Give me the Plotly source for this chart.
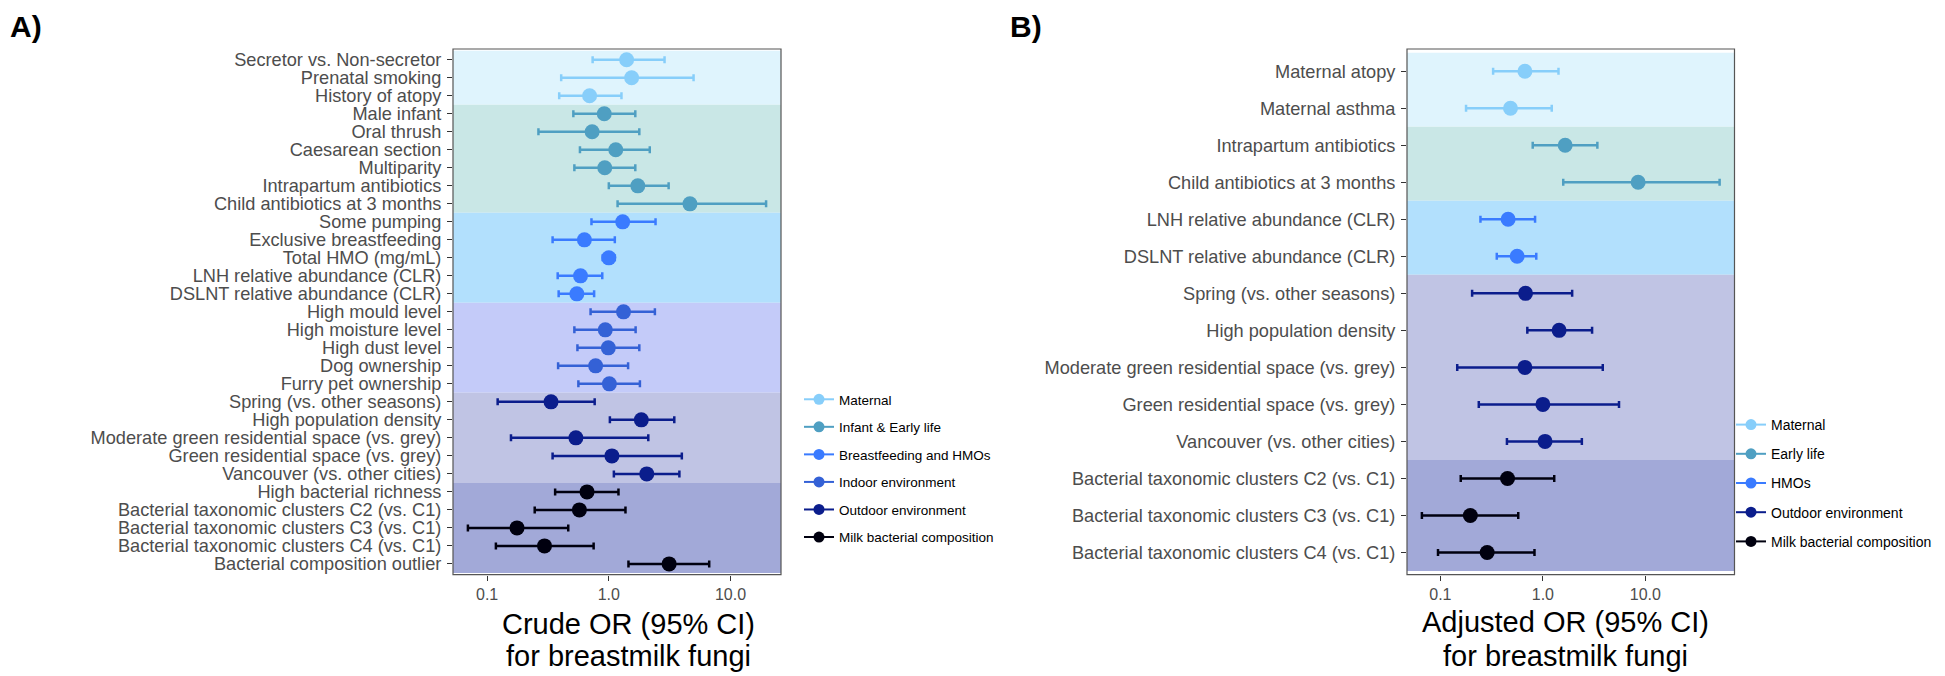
import math
import plotly.graph_objects as go

# ---------------- Data: panel A (crude OR) ----------------
A_labels = [
    "Secretor vs. Non-secretor", "Prenatal smoking", "History of atopy",
    "Male infant", "Oral thrush", "Caesarean section", "Multiparity",
    "Intrapartum antibiotics", "Child antibiotics at 3 months",
    "Some pumping", "Exclusive breastfeeding", "Total HMO (mg/mL)",
    "LNH relative abundance (CLR)", "DSLNT relative abundance (CLR)",
    "High mould level", "High moisture level", "High dust level",
    "Dog ownership", "Furry pet ownership",
    "Spring (vs. other seasons)", "High population density",
    "Moderate green residential space (vs. grey)",
    "Green residential space (vs. grey)", "Vancouver (vs. other cities)",
    "High bacterial richness", "Bacterial taxonomic clusters C2 (vs. C1)",
    "Bacterial taxonomic clusters C3 (vs. C1)",
    "Bacterial taxonomic clusters C4 (vs. C1)", "Bacterial composition outlier",
]
A_group = (["Maternal"] * 3 + ["Infant & Early life"] * 6 +
           ["Breastfeeding and HMOs"] * 5 + ["Indoor environment"] * 5 +
           ["Outdoor environment"] * 5 + ["Milk bacterial composition"] * 5)
A_or = [1.40, 1.54, 0.695, 0.917, 0.729, 1.14, 0.926, 1.73, 4.64,
        1.30, 0.63, 1.00, 0.585, 0.546,
        1.32, 0.935, 0.99, 0.779, 1.01,
        0.335, 1.85, 0.536, 1.06, 2.05,
        0.662, 0.573, 0.176, 0.296, 3.13]
A_lo = [0.736, 0.406, 0.391, 0.511, 0.264, 0.579, 0.521, 1.00, 1.18,
        0.72, 0.345, 0.89, 0.38, 0.387,
        0.708, 0.521, 0.552, 0.383, 0.562,
        0.122, 1.02, 0.157, 0.345, 1.10,
        0.362, 0.246, 0.0695, 0.118, 1.45]
A_hi = [2.87, 4.97, 1.27, 1.65, 1.78, 2.17, 1.65, 3.10, 19.6,
        2.42, 1.12, 1.12, 0.883, 0.757,
        2.39, 1.66, 1.78, 1.44, 1.80,
        0.765, 3.45, 2.11, 3.98, 3.80,
        1.20, 1.37, 0.464, 0.75, 6.68]
A_groups = ["Maternal", "Infant & Early life", "Breastfeeding and HMOs",
            "Indoor environment", "Outdoor environment", "Milk bacterial composition"]

# ---------------- Data: panel B (adjusted OR) ----------------
B_labels = [
    "Maternal atopy", "Maternal asthma", "Intrapartum antibiotics",
    "Child antibiotics at 3 months", "LNH relative abundance (CLR)",
    "DSLNT relative abundance (CLR)", "Spring (vs. other seasons)",
    "High population density", "Moderate green residential space (vs. grey)",
    "Green residential space (vs. grey)", "Vancouver (vs. other cities)",
    "Bacterial taxonomic clusters C2 (vs. C1)",
    "Bacterial taxonomic clusters C3 (vs. C1)",
    "Bacterial taxonomic clusters C4 (vs. C1)",
]
B_group = (["Maternal"] * 2 + ["Early life"] * 2 + ["HMOs"] * 2 +
           ["Outdoor environment"] * 5 + ["Milk bacterial composition"] * 3)
B_or = [0.668, 0.483, 1.65, 8.5, 0.458, 0.561, 0.677, 1.44, 0.668, 1.00, 1.05,
        0.452, 0.196, 0.286]
B_lo = [0.327, 0.178, 0.796, 1.58, 0.246, 0.355, 0.204, 0.705, 0.146, 0.237, 0.446,
        0.158, 0.066, 0.0948]
B_hi = [1.42, 1.22, 3.40, 53.0, 0.839, 0.862, 1.93, 3.02, 3.84, 5.53, 2.40,
        1.29, 0.575, 0.828]
B_groups = ["Maternal", "Early life", "HMOs", "Outdoor environment",
            "Milk bacterial composition"]

x_tickvals = [0.1, 1, 10]
x_ticktext = ["0.1", "1.0", "10.0"]

# ---------------- Styles ----------------
FONT = "Liberation Sans, Arial, Helvetica, sans-serif"
point_color = {
    "Maternal": "#87cefa",
    "Infant & Early life": "#4f9fc2", "Early life": "#4f9fc2",
    "Breastfeeding and HMOs": "#3a7bff", "HMOs": "#3a7bff",
    "Indoor environment": "#3461d6",
    "Outdoor environment": "#0b1d8c",
    "Milk bacterial composition": "#00000f",
}
band_color = {
    "Maternal": "#dff4fd",
    "Infant & Early life": "#c9e7e6", "Early life": "#c9e7e6",
    "Breastfeeding and HMOs": "#b2e0fd", "HMOs": "#b2e0fd",
    "Indoor environment": "#c4cbf9",
    "Outdoor environment": "#c0c4e4",
    "Milk bacterial composition": "#a2a9d8",
}

W, H = 1945, 676
def px_x(p):
    return p / W
def px_y(p):
    return 1 - p / H

fig = go.Figure()
shapes = []


def add_panel(labels, groups_col, orv, lo, hi, group_order, xa, ya, legend_name):
    n = len(labels)
    for g in group_order:
        idx = [i for i, gg in enumerate(groups_col) if gg == g]
        col = point_color[g]
        fig.add_trace(go.Scatter(
            x=[orv[i] for i in idx], y=[labels[i] for i in idx],
            mode="markers", marker=dict(size=15, color=col),
            error_x=dict(type="data", symmetric=False,
                         array=[hi[i] - orv[i] for i in idx],
                         arrayminus=[orv[i] - lo[i] for i in idx],
                         color=col, thickness=2.5, width=3.5),
            xaxis=xa, yaxis=ya, showlegend=False, hoverinfo="skip"))
        # legend entry
        fig.add_trace(go.Scatter(
            x=[None], y=[None], mode="lines+markers", name=g,
            marker=dict(size=11, color=col), line=dict(color=col, width=2),
            xaxis=xa, yaxis=ya, legend=legend_name, legendgroup=legend_name + g,
            showlegend=True))
        # background band
        y0 = max(min(idx) - 0.5, -0.6)
        y1 = min(max(idx) + 0.5, n - 0.4)
        shapes.append(dict(type="rect", xref=xa + " domain", yref=ya,
                           x0=0, x1=1, y0=y0, y1=y1, fillcolor=band_color[g],
                           line=dict(width=0), layer="below"))
    # reference line at OR = 1 (log axis -> log10 units)
    shapes.append(dict(type="line", xref=xa, yref=ya + " domain",
                       x0=math.log10(1), x1=math.log10(1), y0=0, y1=1,
                       line=dict(color="black", width=1.6, dash="6px,5px"),
                       layer="above"))
    shapes.append(dict(type="rect", xref=xa + " domain", yref=ya + " domain",
                       x0=0, x1=1, y0=0, y1=1, line=dict(color="#555555", width=1.2),
                       fillcolor="rgba(0,0,0,0)", layer="above"))


def log_range(lo, hi):
    a, b = math.log10(min(lo)), math.log10(max(hi))
    pad = 0.05 * (b - a)
    return [a - pad, b + pad]


add_panel(A_labels, A_group, A_or, A_lo, A_hi, A_groups, "x", "y", "legend")
add_panel(B_labels, B_group, B_or, B_lo, B_hi, B_groups, "x2", "y2", "legend2")

xcommon = dict(type="log", tickvals=x_tickvals, ticktext=x_ticktext,
               ticks="outside", ticklen=5, tickwidth=1, tickcolor="#333333",
               showgrid=False, zeroline=False, showline=False,
               tickfont=dict(family=FONT, size=16, color="#4d4d4d"))
ycommon = dict(type="category", ticks="outside", ticklen=5, tickwidth=1,
               tickcolor="#333333", showgrid=False, zeroline=False, showline=False,
               tickmode="array", ticklabelstandoff=2,
               tickfont=dict(family=FONT, size=18.2, color="#4d4d4d"))

ydom = [px_y(566.7), px_y(41)]
fig.update_layout(
    width=W, height=H, margin=dict(l=0, r=0, t=0, b=0),
    paper_bgcolor="white", plot_bgcolor="white",
    font=dict(family=FONT),
    xaxis=dict(domain=[px_x(445), px_x(773)], range=log_range(A_lo, A_hi),
               anchor="y", **xcommon),
    yaxis=dict(domain=ydom, anchor="x", categoryorder="array",
               categoryarray=A_labels, tickvals=A_labels, ticktext=A_labels,
               range=[len(A_labels) - 0.4, -0.6], **ycommon),
    xaxis2=dict(domain=[px_x(1399), px_x(1726.5)], range=log_range(B_lo, B_hi),
                anchor="y2", **xcommon),
    yaxis2=dict(domain=ydom, anchor="x2", categoryorder="array",
                categoryarray=B_labels, tickvals=B_labels, ticktext=B_labels,
                range=[len(B_labels) - 0.4, -0.6], **ycommon),
    shapes=shapes,
    legend=dict(x=px_x(791), y=px_y(376), xanchor="left", yanchor="top",
                font=dict(family=FONT, size=13.5, color="black"),
                tracegroupgap=7, bgcolor="rgba(0,0,0,0)"),
    legend2=dict(x=px_x(1723), y=px_y(401), xanchor="left", yanchor="top",
                 font=dict(family=FONT, size=14, color="black"),
                 tracegroupgap=8, bgcolor="rgba(0,0,0,0)"),
    showlegend=True,
)

annotations = [
    dict(text="<b>A)</b>", x=0, y=px_y(0), xref="paper", yref="paper",
         xanchor="left", yanchor="top", showarrow=False,
         font=dict(family=FONT, size=30, color="black")),
    dict(text="<b>B)</b>", x=px_x(1000), y=px_y(0), xref="paper", yref="paper",
         xanchor="left", yanchor="top", showarrow=False,
         font=dict(family=FONT, size=30, color="black")),
    dict(text="Crude OR (95% CI)", x=px_x(620), y=px_y(616), xref="paper",
         yref="paper", xanchor="center", yanchor="middle", showarrow=False,
         font=dict(family=FONT, size=29, color="black")),
    dict(text="for breastmilk fungi", x=px_x(620), y=px_y(648), xref="paper",
         yref="paper", xanchor="center", yanchor="middle", showarrow=False,
         font=dict(family=FONT, size=29, color="black")),
    dict(text="Adjusted OR (95% CI)", x=px_x(1557), y=px_y(614), xref="paper",
         yref="paper", xanchor="center", yanchor="middle", showarrow=False,
         font=dict(family=FONT, size=29, color="black")),
    dict(text="for breastmilk fungi", x=px_x(1557), y=px_y(648), xref="paper",
         yref="paper", xanchor="center", yanchor="middle", showarrow=False,
         font=dict(family=FONT, size=29, color="black")),
]
fig.update_layout(annotations=annotations)

fig.write_html("out.html")
